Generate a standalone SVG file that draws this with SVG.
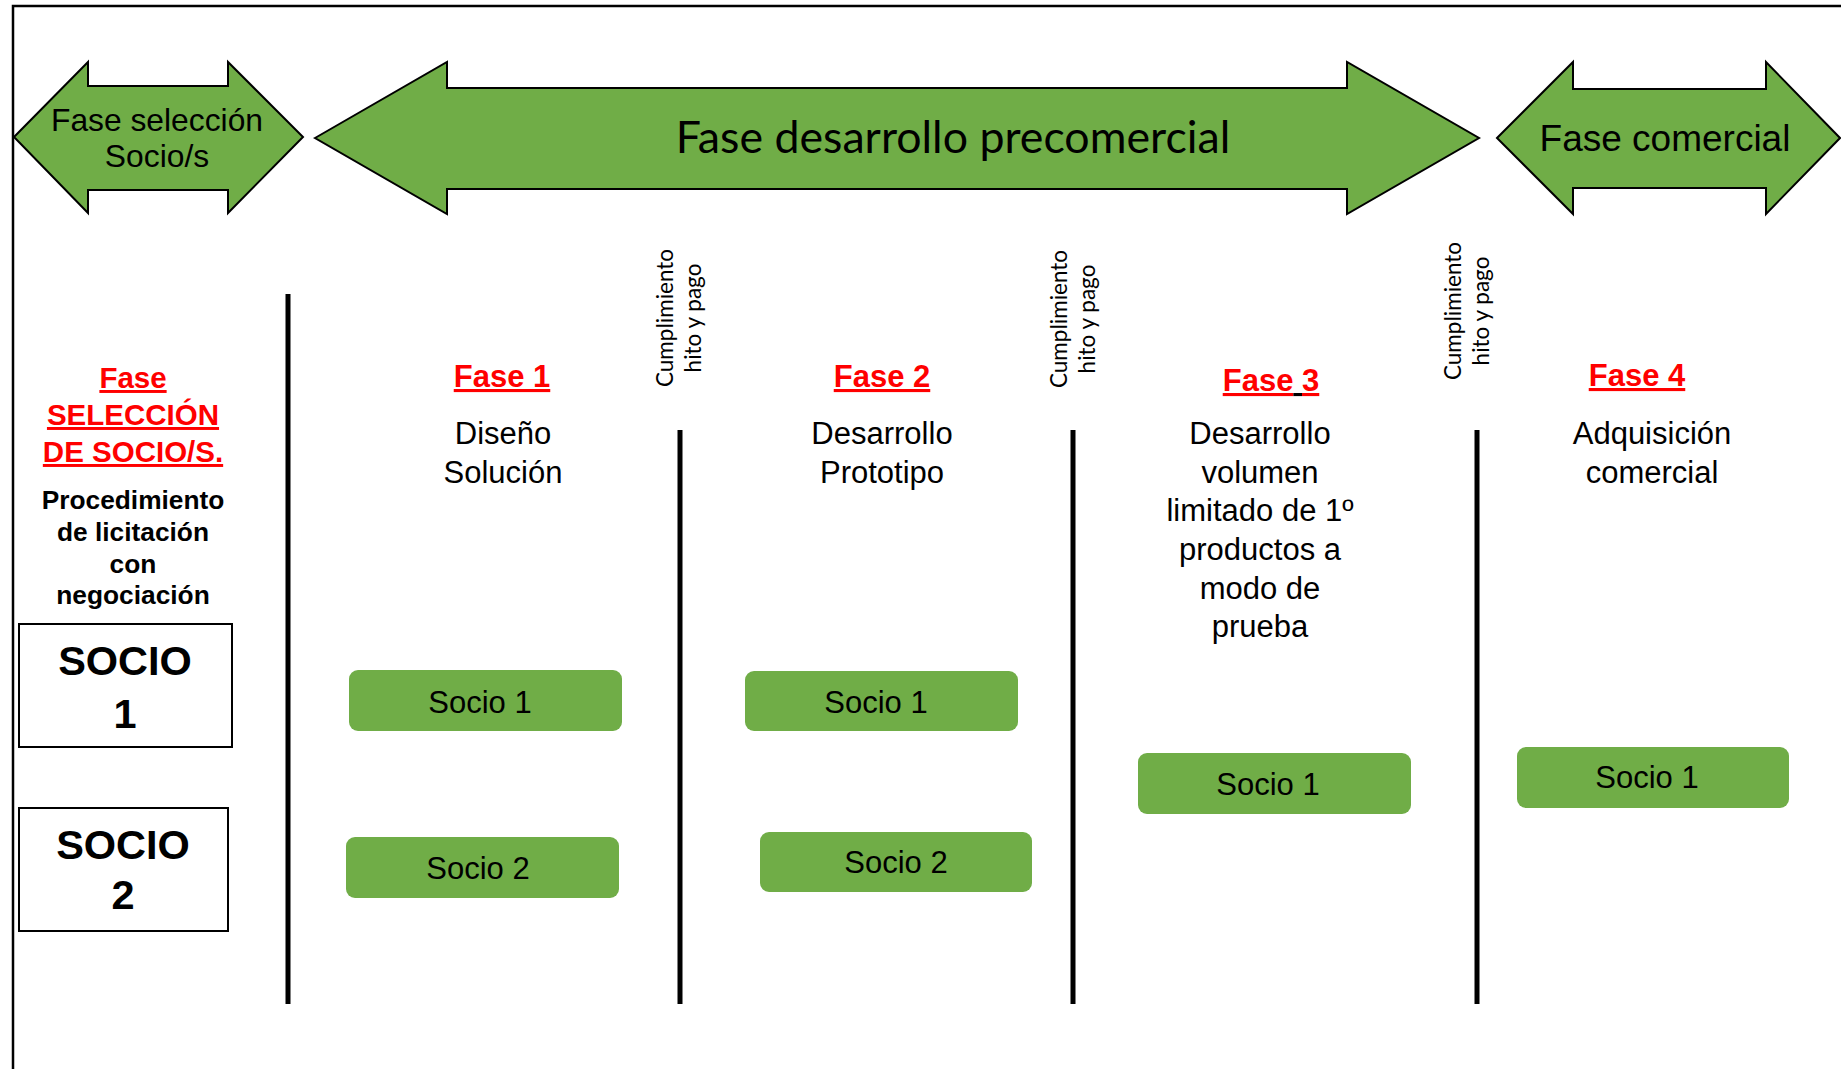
<svg xmlns="http://www.w3.org/2000/svg" width="1841" height="1069" viewBox="0 0 1841 1069">
<style>
.arrow{fill:#70AD47;stroke:#000;stroke-width:2;stroke-linejoin:miter}
.box{fill:#70AD47;stroke:none}
.sbox{fill:#fff;stroke:#000;stroke-width:2}
.vline{stroke:#000;stroke-width:5}
.red{fill:#FF0000;font-weight:bold;text-decoration:underline}
.desc{font-size:31px;fill:#000}
.soc{font-size:31px;fill:#000}
.vt{font-size:22.5px;fill:#000}
</style>
<rect x="0" y="0" width="1841" height="1069" fill="#fff"/>
<g id="frame">
<path d="M13,1069 V6 H1841" fill="none" stroke="#000" stroke-width="2.5"/>
</g>
<g font-family="Liberation Sans, Arimo, Arial, Helvetica, sans-serif">
<g id="arrow-seleccion">
<polygon class="arrow" points="14,137 88,62 88,86 228,86 228,62 303,137 228,213 228,190 88,190 88,213"/>
<text font-size="31.8" text-anchor="middle" x="157" y="131">Fase selección</text>
<text font-size="31.8" text-anchor="middle" x="157" y="167">Socio/s</text>
</g>
<g id="arrow-precomercial">
<polygon class="arrow" points="315,138 447,62 447,88 1347,88 1347,62 1479,138 1347,214 1347,189 447,189 447,214"/>
<text font-family="Lato, Open Sans, sans-serif" font-size="44.7" text-anchor="middle" x="953" y="153">Fase desarrollo precomercial</text>
</g>
<g id="arrow-comercial">
<polygon class="arrow" points="1497,138 1573,62 1573,89 1766,89 1766,62 1840,138 1766,214 1766,188 1573,188 1573,214"/>
<text font-size="37" text-anchor="middle" x="1665" y="151">Fase comercial</text>
</g>
<g id="connectors">
<line class="vline" x1="288" y1="294" x2="288" y2="1004"/>
<line class="vline" x1="680" y1="430" x2="680" y2="1004"/>
<line class="vline" x1="1073" y1="430" x2="1073" y2="1004"/>
<line class="vline" x1="1477" y1="430" x2="1477" y2="1004"/>
</g>
<g id="hito1">
<text class="vt" font-family="Lato, Open Sans, sans-serif" text-anchor="middle" transform="translate(673,318) rotate(-90)"><tspan x="0" y="0">Cumplimiento</tspan><tspan x="0" y="28">hito y pago</tspan></text>
</g>
<g id="hito2">
<text class="vt" font-family="Lato, Open Sans, sans-serif" text-anchor="middle" transform="translate(1067,319) rotate(-90)"><tspan x="0" y="0">Cumplimiento</tspan><tspan x="0" y="28">hito y pago</tspan></text>
</g>
<g id="hito3">
<text class="vt" font-family="Lato, Open Sans, sans-serif" text-anchor="middle" transform="translate(1461,311) rotate(-90)"><tspan x="0" y="0">Cumplimiento</tspan><tspan x="0" y="28">hito y pago</tspan></text>
</g>
<g id="fase-seleccion">
<text class="red" font-size="29.5" text-anchor="middle" x="133" y="388">Fase</text>
<text class="red" font-size="29.5" text-anchor="middle" x="133" y="425">SELECCIÓN</text>
<text class="red" font-size="29.5" text-anchor="middle" x="133" y="462">DE SOCIO/S.</text>
<text font-size="26.3" font-weight="bold" text-anchor="middle" x="133" y="509">Procedimiento</text>
<text font-size="26.3" font-weight="bold" text-anchor="middle" x="133" y="541">de licitación</text>
<text font-size="26.3" font-weight="bold" text-anchor="middle" x="133" y="573">con</text>
<text font-size="26.3" font-weight="bold" text-anchor="middle" x="133" y="604">negociación</text>
</g>
<g id="socio-1-box">
<rect class="sbox" x="19" y="624" width="213" height="123"/>
<text font-size="41.5" font-weight="bold" text-anchor="middle" x="125" y="675">SOCIO</text>
<text font-size="41.5" font-weight="bold" text-anchor="middle" x="125" y="728">1</text>
</g>
<g id="socio-2-box">
<rect class="sbox" x="19" y="808" width="209" height="123"/>
<text font-size="41.5" font-weight="bold" text-anchor="middle" x="123" y="859">SOCIO</text>
<text font-size="41.5" font-weight="bold" text-anchor="middle" x="123" y="909">2</text>
</g>
<g id="fase1">
<text class="red" font-size="31" text-anchor="middle" x="502" y="387">Fase 1</text>
<text class="desc" text-anchor="middle" x="503" y="444">Diseño</text>
<text class="desc" text-anchor="middle" x="503" y="483">Solución</text>
</g>
<g id="fase1-socio1">
<rect class="box" x="349" y="670" width="273" height="61" rx="9"/>
<text class="soc" text-anchor="middle" x="480" y="713">Socio 1</text>
</g>
<g id="fase1-socio2">
<rect class="box" x="346" y="837" width="273" height="61" rx="9"/>
<text class="soc" text-anchor="middle" x="478" y="879">Socio 2</text>
</g>
<g id="fase2">
<text class="red" font-size="31" text-anchor="middle" x="882" y="387">Fase 2</text>
<text class="desc" text-anchor="middle" x="882" y="444">Desarrollo</text>
<text class="desc" text-anchor="middle" x="882" y="483">Prototipo</text>
</g>
<g id="fase2-socio1">
<rect class="box" x="745" y="671" width="273" height="60" rx="9"/>
<text class="soc" text-anchor="middle" x="876" y="713">Socio 1</text>
</g>
<g id="fase2-socio2">
<rect class="box" x="760" y="832" width="272" height="60" rx="9"/>
<text class="soc" text-anchor="middle" x="896" y="873">Socio 2</text>
</g>
<g id="fase3">
<text font-size="31" font-weight="bold" text-anchor="middle" x="1271" y="391"><tspan fill="#FF0000" text-decoration="underline">Fase</tspan><tspan fill="#000" text-decoration="underline"> </tspan><tspan fill="#FF0000" text-decoration="underline">3</tspan></text>
<text class="desc" text-anchor="middle" x="1260" y="444">Desarrollo</text>
<text class="desc" text-anchor="middle" x="1260" y="483">volumen</text>
<text class="desc" text-anchor="middle" x="1260" y="521">limitado de 1º</text>
<text class="desc" text-anchor="middle" x="1260" y="560">productos a</text>
<text class="desc" text-anchor="middle" x="1260" y="599">modo de</text>
<text class="desc" text-anchor="middle" x="1260" y="637">prueba</text>
</g>
<g id="fase3-socio1">
<rect class="box" x="1138" y="753" width="273" height="61" rx="9"/>
<text class="soc" text-anchor="middle" x="1268" y="795">Socio 1</text>
</g>
<g id="fase4">
<text class="red" font-size="31" text-anchor="middle" x="1637" y="386">Fase 4</text>
<text class="desc" text-anchor="middle" x="1652" y="444">Adquisición</text>
<text class="desc" text-anchor="middle" x="1652" y="483">comercial</text>
</g>
<g id="fase4-socio1">
<rect class="box" x="1517" y="747" width="272" height="61" rx="9"/>
<text class="soc" text-anchor="middle" x="1647" y="788">Socio 1</text>
</g>
</g>
</svg>
